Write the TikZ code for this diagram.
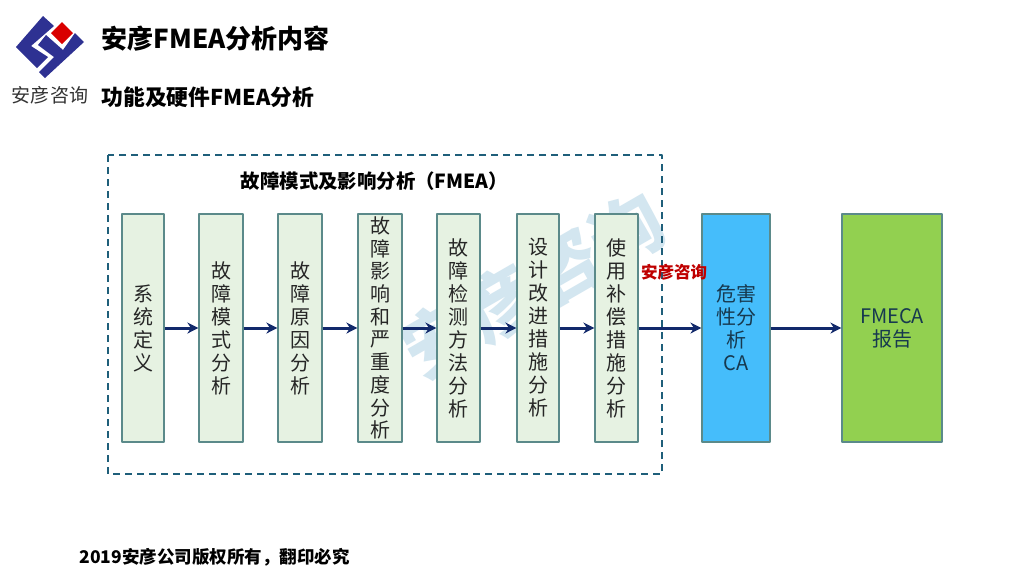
\documentclass[tikz,border=0pt]{standalone}
\usepackage{fontspec}
\setmainfont{Noto Sans CJK SC}
\usetikzlibrary{arrows.meta}
\definecolor{navyline}{HTML}{12296B}
\definecolor{tealline}{HTML}{1F5F7A}
\definecolor{stepfill}{HTML}{E6F2E2}
\definecolor{stepline}{HTML}{5B8A8A}
\definecolor{logoblue}{HTML}{2E3192}
\definecolor{markblue}{HTML}{D3E6F0}
\definecolor{cafill}{HTML}{45BDFB}
\definecolor{reportfill}{HTML}{92D050}
\definecolor{darktext}{HTML}{17394F}
\tikzset{
	stepbox/.style={draw=stepline, fill=stepfill, line width=1.2pt, minimum height=228pt, inner sep=0pt, align=center, font=\fontsize{20}{23}\selectfont, text=black!85},
	endbox/.style={stepbox, fill=#1, text=darktext},
	flow/.style={draw=navyline, line width=3pt, -{Stealth[length=11pt,width=11pt]}}
}
\begin{document}
\begin{tikzpicture}[x=1pt, y=-1pt, line join=round, >=stealth]
	\useasboundingbox (0,0) rectangle (1024,576);
	\fill[white] (0,0) rectangle (1024,576);
	% logo
	\fill[logoblue] (43,16) -- (16,47) -- (37,68) -- (48,57) -- (31,46) -- (54,26) -- cycle;
	\fill[logoblue] (84,42) -- (45,78) -- (39,72) -- (54,57) -- (38,45) -- (46,35) -- (63,50) -- (75,33) -- cycle;
	\fill[red!85!black] (62,22) -- (73,33) -- (62,44) -- (51,33) -- cycle;
	\node[font=\fontsize{19}{19}\selectfont, text=black!80] (logotext) at (50,95) {安彦咨询};
	% title
	\node[anchor=west, font=\fontsize{26}{26}\selectfont\bfseries] (title) at (98,39) {安彦FMEA分析内容};
	\node[anchor=west, font=\fontsize{21.8}{21.8}\selectfont\bfseries] (subtitle) at (98,97) {功能及硬件FMEA分析};
	% watermark
	\node[rotate=30, text=markblue, font=\fontsize{72}{72}\selectfont\bfseries] (mark) at (533,285) {安彦咨询};
	% dashed frame
	\draw[tealline, line width=2.4pt, dash pattern=on 7pt off 5pt] (108,155) rectangle (662,474);
	\node[font=\fontsize{19.4}{19.4}\selectfont\bfseries] (frametitle) at (374.5,181) {故障模式及影响分析（FMEA）};
	% boxes
	\node[stepbox, minimum width=42pt] (s1) at (143,328) {系\\统\\定\\义};
	\node[stepbox, minimum width=44pt] (s2) at (221,328) {故\\障\\模\\式\\分\\析};
	\node[stepbox, minimum width=44pt] (s3) at (300,328) {故\\障\\原\\因\\分\\析};
	\node[stepbox, minimum width=44pt, font=\fontsize{20}{22.7}\selectfont] (s4) at (380,328) {故\\障\\影\\响\\和\\严\\重\\度\\分\\析};
	\node[stepbox, minimum width=43pt] (s5) at (458.5,328) {故\\障\\检\\测\\方\\法\\分\\析};
	\node[stepbox, minimum width=42pt] (s6) at (538,328) {设\\计\\改\\进\\措\\施\\分\\析};
	\node[stepbox, minimum width=43pt] (s7) at (616.5,328) {使\\用\\补\\偿\\措\\施\\分\\析};
	\node[endbox=cafill, minimum width=68pt] (ca) at (736,328) {危害\\性分\\析\\CA};
	\node[endbox=reportfill, minimum width=100pt] (report) at (892,328) {FMECA\\报告};
	% arrows
	\foreach \a/\b in {s1/s2, s2/s3, s3/s4, s4/s5, s5/s6, s6/s7, s7/ca, ca/report}
		\draw[flow] (\a) -- (\b);
	\node[text=red!75!black, font=\fontsize{16.5}{16.5}\selectfont\bfseries] (stamp) at (674,272) {安彦咨询};
	% footer
	\node[anchor=west, font=\fontsize{17.5}{17.5}\selectfont\bfseries] (footer) at (76,557) {2019安彦公司版权所有，翻印必究};
\end{tikzpicture}
\end{document}
